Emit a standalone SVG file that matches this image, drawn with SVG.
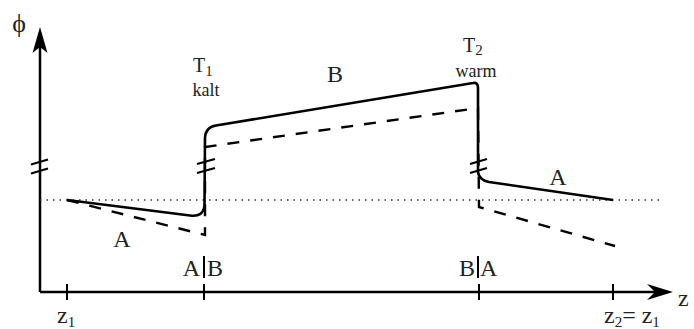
<svg xmlns="http://www.w3.org/2000/svg" width="694" height="329" viewBox="0 0 694 329">
<style>
text{font-family:"Liberation Serif","Times New Roman",serif;fill:#222}
.big{font-size:24px}
.sm{font-size:18px}
.sub{font-size:15px}
.ax{stroke:#000;stroke-width:2.5;fill:none}
.tick{stroke:#000;stroke-width:2;fill:none}
.solid{stroke:#000;stroke-width:2.6;fill:none;stroke-linejoin:round}
.dash{stroke:#000;stroke-width:2.4;fill:none;stroke-dasharray:12 11}
.dot{stroke:#333;stroke-width:1.5;fill:none;stroke-dasharray:1.5 5}
.brk{stroke:#000;stroke-width:2.2;fill:none}
</style>
<rect width="694" height="329" fill="#fff"/>
<g id="axes">
<path class="ax" d="M40,292 V45 M40,292 H662"/>
<path d="M40,27 L47.5,53 L40,47 L32.5,53 Z" fill="#000"/>
<path d="M673,292 L647,284 L655,292 L647,300 Z" fill="#000"/>
<path class="brk" d="M31,164.5 L48,159.5 M31,173.5 L48,168.5"/>
<path class="tick" d="M67,284 V300 M204,284 V300 M479,284 V300 M613,284 V300 M204,256 V278 M478,256 V278"/>
</g>
<g id="connectors">
<path class="dot" d="M40,200 H660"/>
<path class="dash" d="M67,200 L205,235 L205,147 L478,108 L479,207 L615,246"/>
<path class="solid" d="M67,200 L190,215.5 Q203.5,217.5 204.5,205 L205,138 Q205.5,127 216,125.5 L473,83 Q478,82 478,88 L478,172 Q479,180 489,182 L613,200"/>
<path class="brk" d="M197,164 L215,159 M197,173 L215,168 M470,164 L487,159 M470,173 L487,168"/>
</g>
<g id="labels">
<text x="19" y="32" font-size="26" text-anchor="middle">ϕ</text>
<text x="678" y="306" font-size="24">z</text>
<text x="57" y="323" class="big">z<tspan class="sub" dy="4">1</tspan></text>
<text x="604" y="323" class="big">z<tspan class="sub" dy="4">2</tspan><tspan dy="-4">= z</tspan><tspan class="sub" dy="4">1</tspan></text>
<text x="200" y="276" class="big" text-anchor="end">A</text>
<text x="207" y="276" class="big">B</text>
<text x="475" y="276" class="big" text-anchor="end">B</text>
<text x="480" y="276" class="big">A</text>
<text x="122" y="247" class="big" text-anchor="middle">A</text>
<text x="558" y="185" class="big" text-anchor="middle">A</text>
<text x="335" y="82" class="big" text-anchor="middle">B</text>
<text x="193" y="72" font-size="20">T<tspan class="sub" dy="4">1</tspan></text>
<text x="206" y="96" class="sm" text-anchor="middle">kalt</text>
<text x="463" y="52" font-size="20">T<tspan class="sub" dy="3">2</tspan></text>
<text x="476" y="77" class="sm" text-anchor="middle">warm</text>
</g>
</svg>
